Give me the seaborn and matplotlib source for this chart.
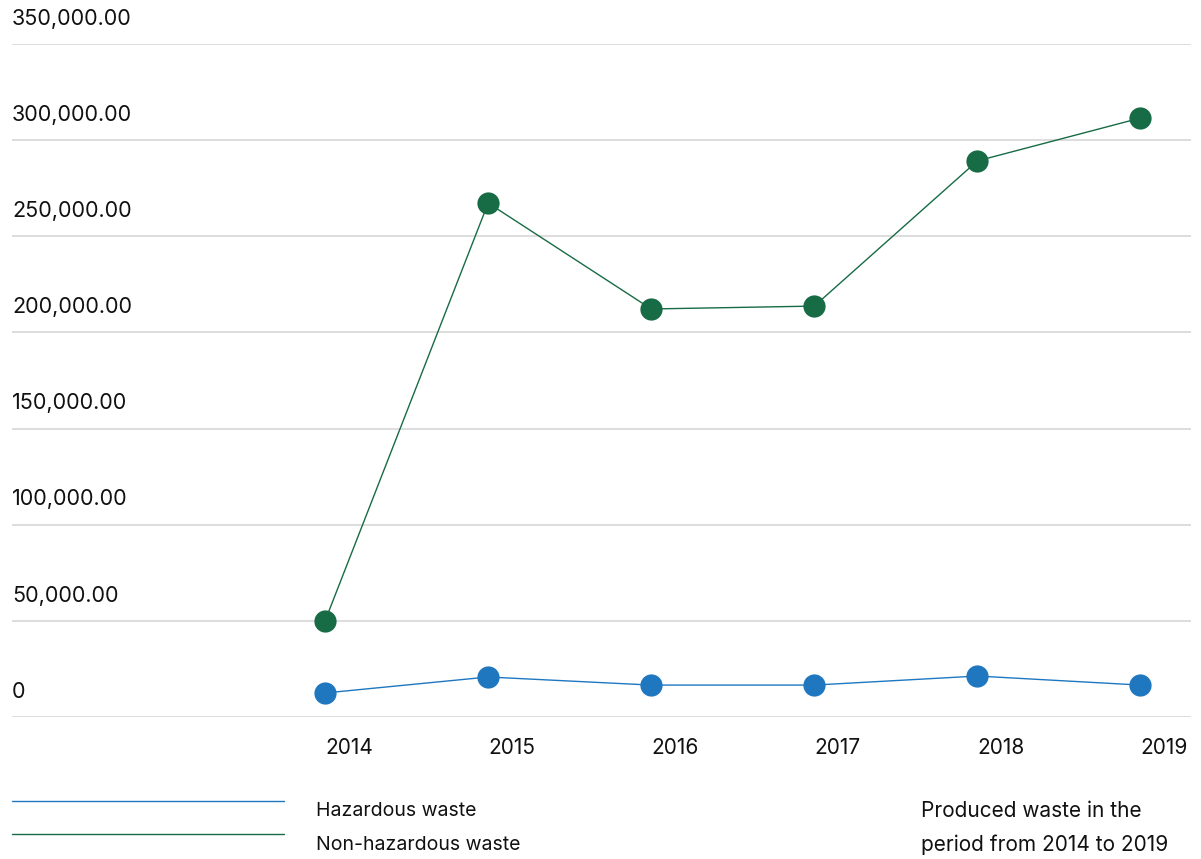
import matplotlib
matplotlib.use("Agg")
import matplotlib.pyplot as plt
from matplotlib.lines import Line2D
from matplotlib.transforms import blended_transform_factory, ScaledTranslation
import seaborn as sns
import pandas as pd

# Produced waste per year (tonnes)
years = [2014, 2015, 2016, 2017, 2018, 2019]
hazardous = [12500, 20800, 16600, 16600, 21300, 16600]
non_hazardous = [50000, 267300, 212200, 213700, 289200, 311500]
y_ticks = [0, 50000, 100000, 150000, 200000, 250000, 300000, 350000]
series_names = ["Hazardous waste", "Non-hazardous waste"]
note = "Produced waste in the\nperiod from 2014 to 2019"

BLUE = "#1f77c0"
GREEN = "#176b45"
GRID = "#d3d3d3"
TEXT = "#111111"

sns.set_theme(style="white")
plt.rcParams["font.family"] = ["Inter", "DejaVu Sans"]

df = pd.DataFrame({
    "year": years * 2,
    "value": hazardous + non_hazardous,
    "series": [series_names[0]] * len(years) + [series_names[1]] * len(years),
})

fig = plt.figure(figsize=(12.01, 8.59), dpi=100)
ax = fig.add_axes([12 / 1201, 142 / 859, (1191 - 12) / 1201, (717 - 44) / 859])

sns.lineplot(data=df, x="year", y="value", hue="series",
             palette={series_names[0]: BLUE, series_names[1]: GREEN},
             marker="o", markersize=16, markeredgewidth=0, linewidth=1.0,
             legend=False, ax=ax, clip_on=False, zorder=3)

ax.set_xlim(2012.08, 2019.31)
ax.set_ylim(0, 350000)
ax.set_xlabel("")
ax.set_ylabel("")
for s in ax.spines.values():
    s.set_visible(False)

# horizontal gridlines with labels sitting above them
ax.set_yticks(y_ticks)
ax.set_yticklabels([])
ax.tick_params(axis="y", length=0)
for v in y_ticks:
    ax.axhline(v, color=GRID, lw=1.1, zorder=1)
trans = blended_transform_factory(ax.transAxes, ax.transData)
for v in y_ticks:
    lbl = "0" if v == 0 else f"{v:,.2f}"
    ax.annotate(lbl, xy=(0.0, v), xycoords=trans, xytext=(0, 11),
                textcoords="offset points", ha="left", va="bottom",
                fontsize=15.5, color=TEXT)

# year labels
ax.set_xticks(years)
ax.set_xticklabels([str(y) for y in years], fontsize=15, color=TEXT)
shift = ScaledTranslation(-4 / 100, 0, fig.dpi_scale_trans)
for t in ax.get_xticklabels():
    t.set_horizontalalignment("left")
    t.set_transform(t.get_transform() + shift)
ax.tick_params(axis="x", length=0, pad=15)

# legend drawn below the plot
fig.add_artist(Line2D([12 / 1201, 284 / 1201], [1 - 801 / 859] * 2,
                      color=BLUE, lw=1.0, transform=fig.transFigure))
fig.add_artist(Line2D([12 / 1201, 284 / 1201], [1 - 834 / 859] * 2,
                      color=GREEN, lw=1.0, transform=fig.transFigure))
fig.text(316 / 1201, 1 - 811 / 859, series_names[0], ha="left", va="center",
         fontsize=14, color=TEXT)
fig.text(316 / 1201, 1 - 845 / 859, series_names[1], ha="left", va="center",
         fontsize=14, color=TEXT)
fig.text(921 / 1201, 1 - 828 / 859, note, ha="left", va="center",
         fontsize=15, color=TEXT, linespacing=1.85)

fig.savefig("out.png", dpi=100, facecolor="white")
